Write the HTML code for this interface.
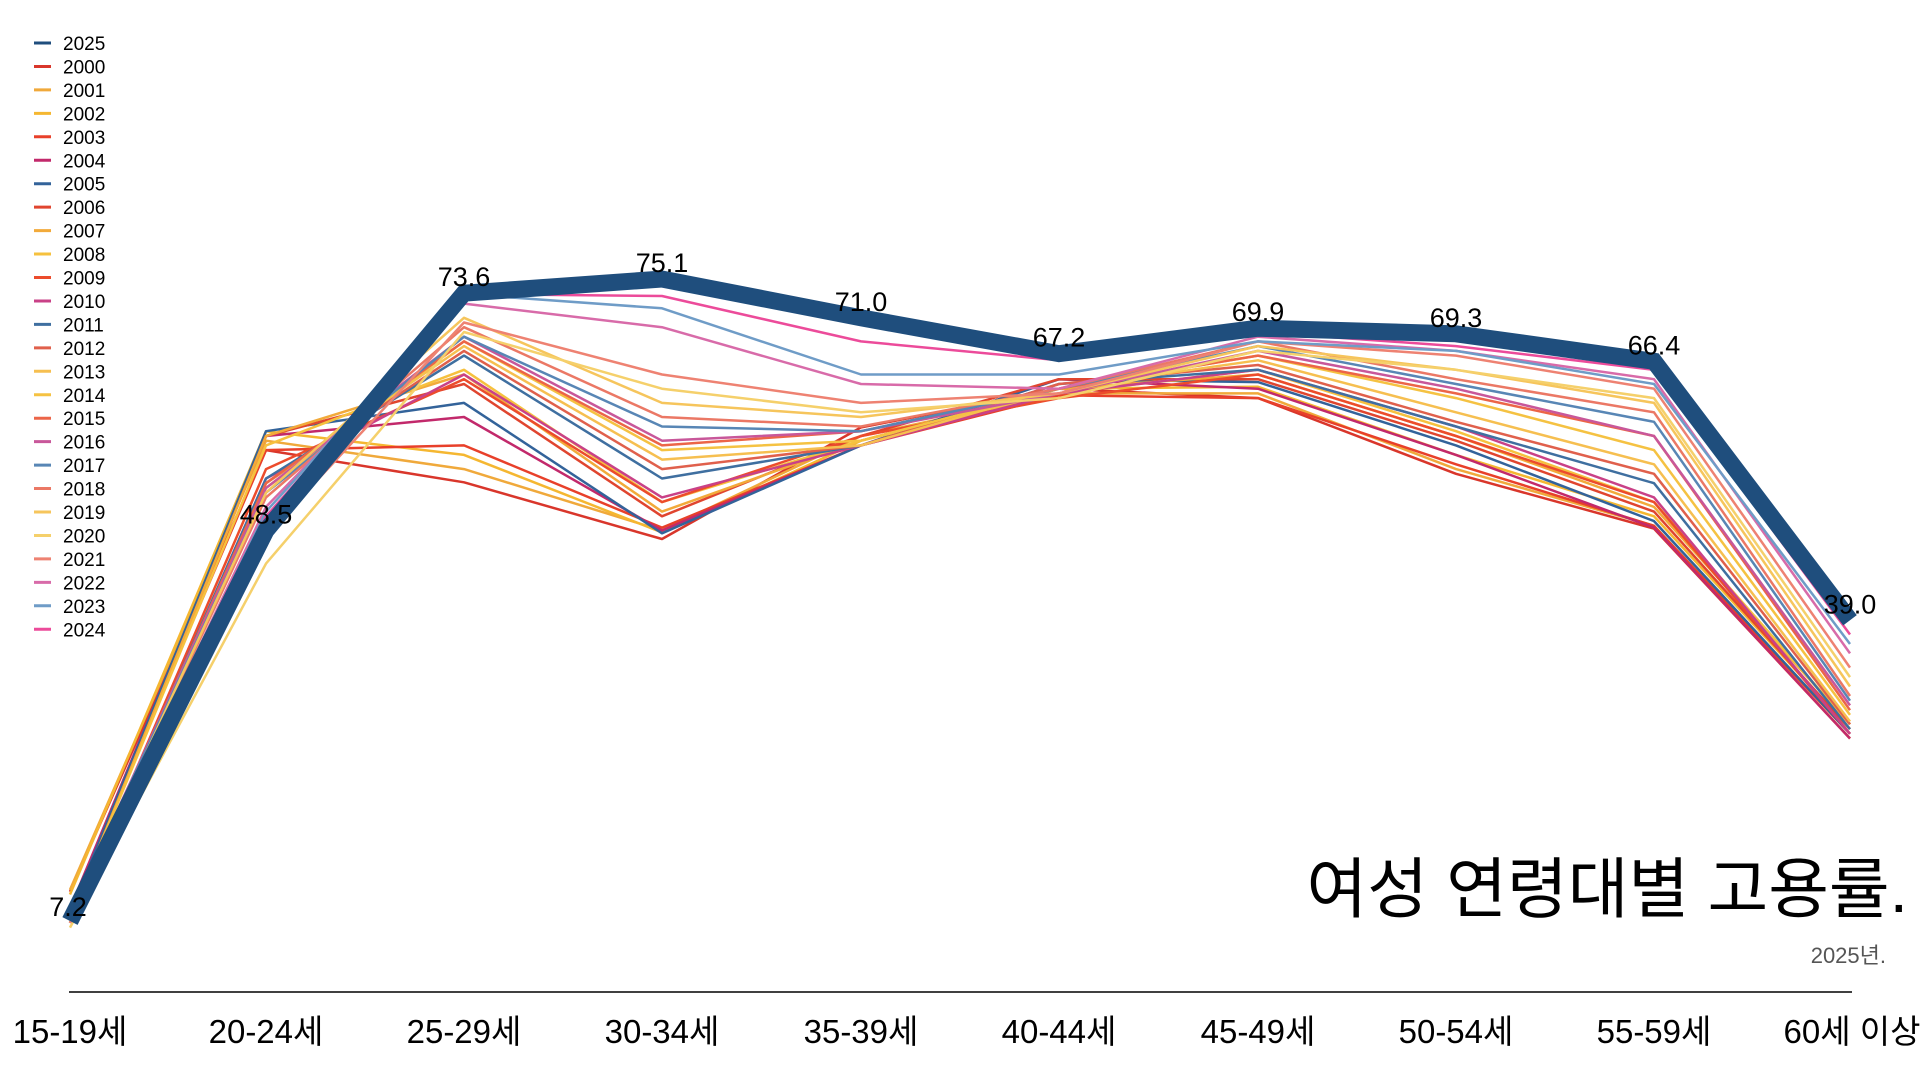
<!DOCTYPE html>
<html><head><meta charset="utf-8">
<style>
html,body{margin:0;padding:0;background:#fff;}
svg{display:block;font-family:"Liberation Sans","Noto Sans CJK KR",sans-serif;}
</style></head>
<body>
<svg id="c" width="1920" height="1080" viewBox="0 0 1920 1080" xmlns="http://www.w3.org/2000/svg">
<line x1="69" y1="992" x2="1852" y2="992" stroke="#000" stroke-width="1.5"/>
<g font-size="33" text-anchor="middle" fill="#000">
<text x="70" y="1043">15-19세</text>
<text x="266" y="1043">20-24세</text>
<text x="464" y="1043">25-29세</text>
<text x="662" y="1043">30-34세</text>
<text x="861" y="1043">35-39세</text>
<text x="1059" y="1043">40-44세</text>
<text x="1258" y="1043">45-49세</text>
<text x="1456" y="1043">50-54세</text>
<text x="1654" y="1043">55-59세</text>
<text x="1852" y="1043">60세 이상</text>
</g>
<text x="1908" y="912" font-size="66" text-anchor="end" fill="#000">여성 연령대별 고용률.</text>
<text x="1886" y="963" font-size="22" text-anchor="end" fill="#555">2025년.</text>
<g id="lines"></g>
<g id="legend"></g>
<g id="labels"></g>
</svg>
<script>
var xs=[70,266,464,662,861,1059,1258,1456,1654,1850];
function Y(v){return 921-(v-7.2)*9.455;}
var D={
2000:[10.3,57.0,53.6,47.6,59.4,63.5,62.5,54.5,48.7,26.5],
2001:[10.5,58.0,55.0,48.5,58.5,63.0,63.0,55.0,49.0,26.5],
2002:[10.0,59.0,56.5,48.3,58.0,63.5,63.7,56.5,50.0,27.5],
2003:[8.5,57.0,57.5,48.8,57.5,62.8,62.5,55.5,49.0,27.0],
2004:[8.5,58.5,60.5,48.5,57.5,64.5,63.5,56.5,48.8,26.5],
2005:[8.0,59.0,62.0,48.2,57.5,64.5,64.2,57.5,49.5,27.0],
2006:[7.5,58.5,64.0,50.0,58.5,64.5,64.5,58.0,50.5,27.5],
2007:[7.5,58.5,65.0,50.5,58.0,63.5,65.0,58.5,51.0,28.0],
2008:[7.5,57.5,65.5,51.5,58.0,63.0,65.5,59.0,51.5,28.0],
2009:[7.0,55.0,64.5,51.5,58.5,62.5,65.0,58.5,51.5,27.0],
2010:[7.0,54.0,65.0,52.0,57.5,63.0,65.5,59.5,52.0,27.0],
2011:[7.0,54.0,67.0,54.0,57.5,64.0,65.5,59.5,53.5,27.5],
2012:[7.0,53.5,67.5,55.0,57.5,64.0,66.0,60.0,54.5,28.0],
2013:[7.0,53.5,68.0,56.0,57.5,63.5,66.5,61.0,55.5,28.3],
2014:[7.5,53.0,68.5,57.0,58.0,63.5,67.0,62.5,57.0,29.0],
2015:[7.5,53.5,68.5,57.5,59.0,63.5,67.0,63.0,58.5,29.5],
2016:[8.0,53.0,69.0,58.0,59.0,63.0,67.5,63.5,58.5,30.0],
2017:[8.0,52.5,69.0,59.5,59.0,63.5,68.0,64.0,60.0,30.5],
2018:[7.5,52.0,70.0,60.5,59.5,63.5,68.5,64.5,61.0,31.0],
2019:[7.5,52.5,71.0,62.0,60.5,63.0,68.0,65.5,62.0,32.0],
2020:[6.5,45.0,69.5,63.5,61.0,62.5,67.5,65.5,62.5,33.0],
2021:[7.0,48.0,70.5,65.0,62.0,63.0,68.5,67.0,63.5,34.0],
2022:[7.5,51.0,72.5,70.0,64.0,63.5,69.0,67.5,64.5,35.5],
2023:[7.5,50.5,73.5,72.0,65.0,65.0,68.5,67.5,64.0,36.5],
2024:[7.5,50.0,73.5,73.3,68.5,66.5,69.5,68.0,65.5,37.5],
2025:[7.2,48.5,73.6,75.1,71.0,67.2,69.9,69.3,66.4,39.0]};
var C={2025:"#1f4e7d",2000:"#d9362b",2001:"#f0a93b",2002:"#f5b731",2003:"#e8402a",2004:"#c2296b",2005:"#33639a",2006:"#e0452f",2007:"#f2aa3a",2008:"#f6c13e",2009:"#ec4c2c",2010:"#c94187",2011:"#3f6fa0",2012:"#e0604c",2013:"#f6bf50",2014:"#f5c242",2015:"#ec6548",2016:"#c8579a",2017:"#5886b5",2018:"#eb7865",2019:"#f6c55c",2020:"#f5d06b",2021:"#ee8272",2022:"#d86ba9",2023:"#6f9cc7",2024:"#ec4b9a"};
var NS="http://www.w3.org/2000/svg";
function el(t,a,p){var e=document.createElementNS(NS,t);for(var k in a)e.setAttribute(k,a[k]);p.appendChild(e);return e;}
var L=document.getElementById("lines"),G=document.getElementById("legend"),B=document.getElementById("labels");
function pts(y){return D[y].map(function(v,i){return xs[i]+","+Y(v).toFixed(1);}).join(" ");}
for(var y=2000;y<=2024;y++)el("polyline",{points:pts(y),fill:"none",stroke:C[y],"stroke-width":2.5,"stroke-linejoin":"round"},L);
el("polyline",{points:pts(2025),fill:"none",stroke:C[2025],"stroke-width":17,"stroke-linejoin":"miter"},L);
var order=[2025];for(y=2000;y<=2024;y++)order.push(y);
order.forEach(function(y,i){var yy=43+i*23.45;
el("line",{x1:34,x2:51,y1:yy,y2:yy,stroke:C[y],"stroke-width":3},G);
var t=el("text",{x:63,y:yy+7,"font-size":19,fill:"#000"},G);t.textContent=y;});
D[2025].forEach(function(v,i){var x=xs[i],yy=Y(v)-7;if(i==0){x=68;yy=Y(v)-5;}
var t=el("text",{x:x,y:yy,"font-size":27,"text-anchor":"middle",fill:"#000"},B);t.textContent=v.toFixed(1);});
</script>
</body></html>
